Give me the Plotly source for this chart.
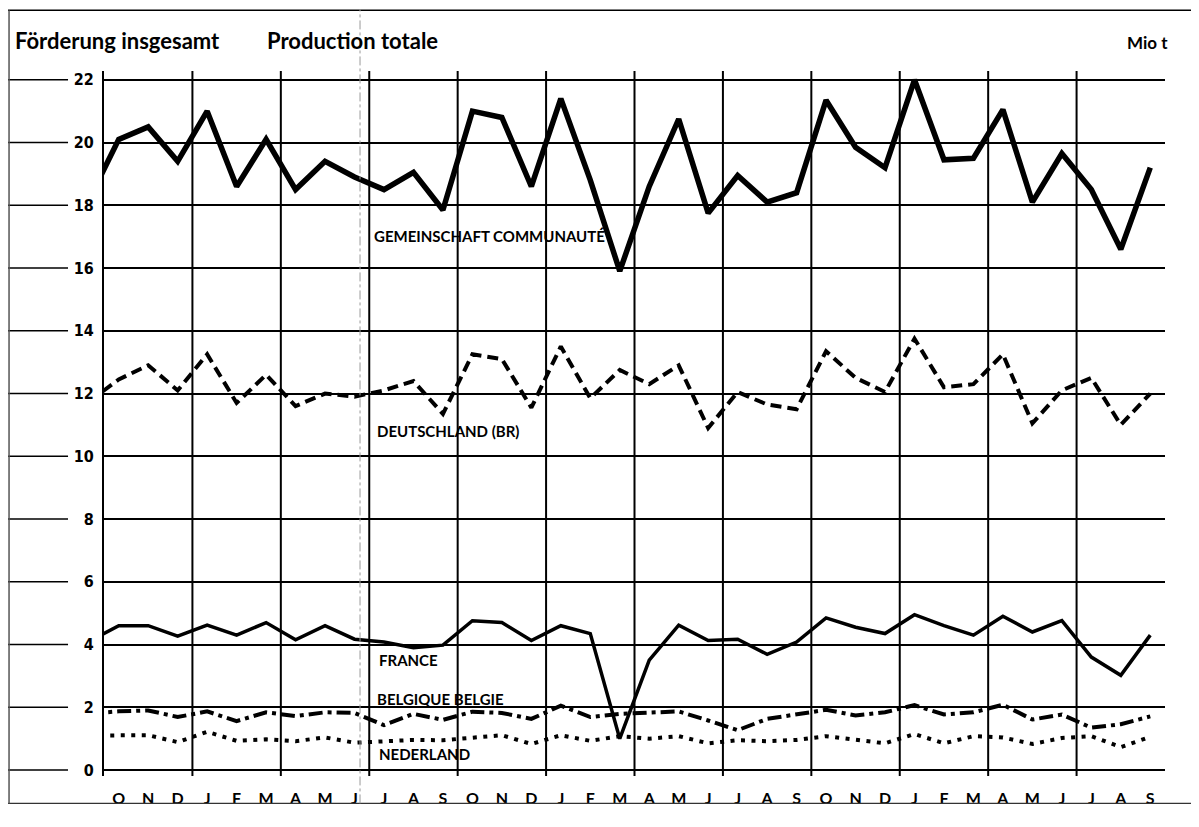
import numpy as np
import plotly.graph_objects as go

# ---------------- data ----------------
month_labels = ["O", "N", "D", "J", "F", "M", "A", "M", "J", "J", "A", "S"] * 3
# first value = preceding September (falls just left of the plot edge)
x_idx = list(range(-1, 36))

gemeinschaft = [18.2,
                20.1, 20.5, 19.4, 21.0, 18.6, 20.1, 18.5, 19.4, 18.9, 18.5, 19.05, 17.85,
                21.0, 20.8, 18.6, 21.4, 18.8, 15.9, 18.6, 20.75, 17.75, 18.95, 18.1, 18.4,
                21.35, 19.85, 19.2, 22.0, 19.45, 19.5, 21.05, 18.1, 19.65, 18.5, 16.6, 19.2]
deutschland = [11.75,
               12.45, 12.9, 12.1, 13.25, 11.7, 12.6, 11.6, 12.0, 11.9, 12.1, 12.4, 11.35,
               13.25, 13.1, 11.55, 13.5, 11.85, 12.75, 12.3, 12.9, 10.9, 12.05, 11.65, 11.5,
               13.35, 12.5, 12.05, 13.75, 12.2, 12.3, 13.25, 11.05, 12.1, 12.5, 11.0, 12.0]
france = [4.1,
          4.6, 4.6, 4.27, 4.62, 4.3, 4.7, 4.15, 4.6, 4.17, 4.08, 3.9, 3.98,
          4.76, 4.7, 4.13, 4.6, 4.35, 1.0, 3.5, 4.62, 4.13, 4.17, 3.69, 4.08,
          4.85, 4.55, 4.35, 4.95, 4.6, 4.3, 4.9, 4.4, 4.76, 3.6, 3.02, 4.3]
belgique = [1.8,
            1.87, 1.9, 1.69, 1.87, 1.56, 1.84, 1.72, 1.84, 1.82, 1.43, 1.79, 1.6,
            1.86, 1.82, 1.63, 2.05, 1.69, 1.79, 1.84, 1.87, 1.58, 1.27, 1.63, 1.77,
            1.92, 1.74, 1.84, 2.07, 1.77, 1.84, 2.08, 1.61, 1.77, 1.35, 1.46, 1.71]
nederland = [1.1,
             1.11, 1.11, 0.89, 1.22, 0.93, 0.98, 0.92, 1.04, 0.87, 0.9, 0.96, 0.95,
             1.04, 1.11, 0.83, 1.11, 0.93, 1.08, 1.0, 1.08, 0.85, 0.95, 0.92, 0.96,
             1.08, 0.96, 0.85, 1.15, 0.85, 1.08, 1.04, 0.83, 1.02, 1.08, 0.73, 1.06]

y_ticks = list(range(0, 23, 2))
quarter_bounds = [2.5 + 3 * k for k in range(11)]

series_labels = ["GEMEINSCHAFT COMMUNAUTÉ", "DEUTSCHLAND (BR)", "FRANCE",
                 "BELGIQUE BELGIE", "NEDERLAND"]
label_x = [8.59, 8.70, 8.76, 8.70, 8.76]
label_y = [17.03, 10.8, 3.5, 2.28, 0.5]

# ---------------- figure ----------------
LAB_FONT = "Lato, 'Open Sans', sans-serif"
NUM_FONT = "'Liberation Sans Narrow', 'DejaVu Sans Condensed', 'Roboto Condensed', sans-serif"

fig = go.Figure()
fig.add_trace(go.Scatter(x=x_idx, y=nederland, mode="lines",
                         line=dict(color="black", width=4, dash="4px,6.5px")))
fig.add_trace(go.Scatter(x=x_idx, y=belgique, mode="lines",
                         line=dict(color="black", width=4, dash="14px,5px,4px,5px")))
fig.add_trace(go.Scatter(x=x_idx, y=france, mode="lines",
                         line=dict(color="black", width=3.5)))
fig.add_trace(go.Scatter(x=x_idx, y=deutschland, mode="lines",
                         line=dict(color="black", width=4, dash="11px,6px")))
fig.add_trace(go.Scatter(x=x_idx, y=gemeinschaft, mode="lines",
                         line=dict(color="black", width=5.5)))

shapes = []
for b in quarter_bounds:
    shapes.append(dict(type="line", xref="x", yref="paper", x0=b, x1=b, y0=0, y1=1,
                       line=dict(color="black", width=2), layer="below"))
# outer tick strokes on the left margin
for v in y_ticks:
    shapes.append(dict(type="line", xref="paper", yref="y", x0=-0.0914, x1=-0.0339,
                       y0=v, y1=v, line=dict(color="black", width=1.5)))
# page frame
shapes.append(dict(type="line", xref="paper", yref="paper", x0=-0.0905, x1=1.025,
                   y0=1.0862, y1=1.0862, line=dict(color="black", width=1.5)))
shapes.append(dict(type="line", xref="paper", yref="paper", x0=-0.0905, x1=1.025,
                   y0=-0.0389, y1=-0.0389, line=dict(color="#333", width=1.2)))
shapes.append(dict(type="line", xref="paper", yref="paper", x0=-0.0895, x1=-0.0895,
                   y0=-0.0389, y1=1.0862, line=dict(color="#555", width=1.5)))
# faint fold line of the scan
shapes.append(dict(type="line", xref="paper", yref="paper", x0=0.2413, x1=0.2413,
                   y0=-0.0389, y1=1.0875, line=dict(color="#999", width=1, dash="dashdot")))

annotations = [
    dict(text="<b>Förderung insgesamt</b>", xref="paper", yref="paper",
         x=-0.0858, y=1.0431, xanchor="left", yanchor="middle", showarrow=False,
         font=dict(family=LAB_FONT, size=22, color="black")),
    dict(text="<b>Production totale</b>", xref="paper", yref="paper",
         x=0.1517, y=1.0431, xanchor="left", yanchor="middle", showarrow=False,
         font=dict(family=LAB_FONT, size=22, color="black")),
    dict(text="<b>Mio t</b>", xref="paper", yref="paper",
         x=1.0047, y=1.0403, xanchor="right", yanchor="middle", showarrow=False,
         font=dict(family=LAB_FONT, size=17, color="black")),
]
for t, lx, ly in zip(series_labels, label_x, label_y):
    annotations.append(dict(text="<b>" + t + "</b>", x=lx, y=ly, xref="x", yref="y",
                            xanchor="left", yanchor="middle", showarrow=False,
                            font=dict(family=LAB_FONT, size=15, color="black")))

fig.update_layout(
    width=1183, height=811,
    margin=dict(l=96, r=26, t=63, b=29),
    paper_bgcolor="white", plot_bgcolor="white",
    showlegend=False,
    shapes=shapes, annotations=annotations,
    xaxis=dict(range=[-0.5, 35.5], tickmode="array", tickvals=list(range(36)),
               ticktext=month_labels, showgrid=False, zeroline=False, showline=False,
               ticks="", ticklabelstandoff=11,
               tickfont=dict(family=LAB_FONT, size=16, color="black", weight="bold")),
    yaxis=dict(range=[-0.19, 22.28], tickmode="array", tickvals=y_ticks,
               showgrid=True, gridcolor="black", gridwidth=1.5, zeroline=False,
               showline=True, linecolor="black", linewidth=2, ticks="",
               ticklabelstandoff=5,
               tickfont=dict(family=NUM_FONT, size=16, color="black", weight="bold")),
)

fig.write_html("out.html")
